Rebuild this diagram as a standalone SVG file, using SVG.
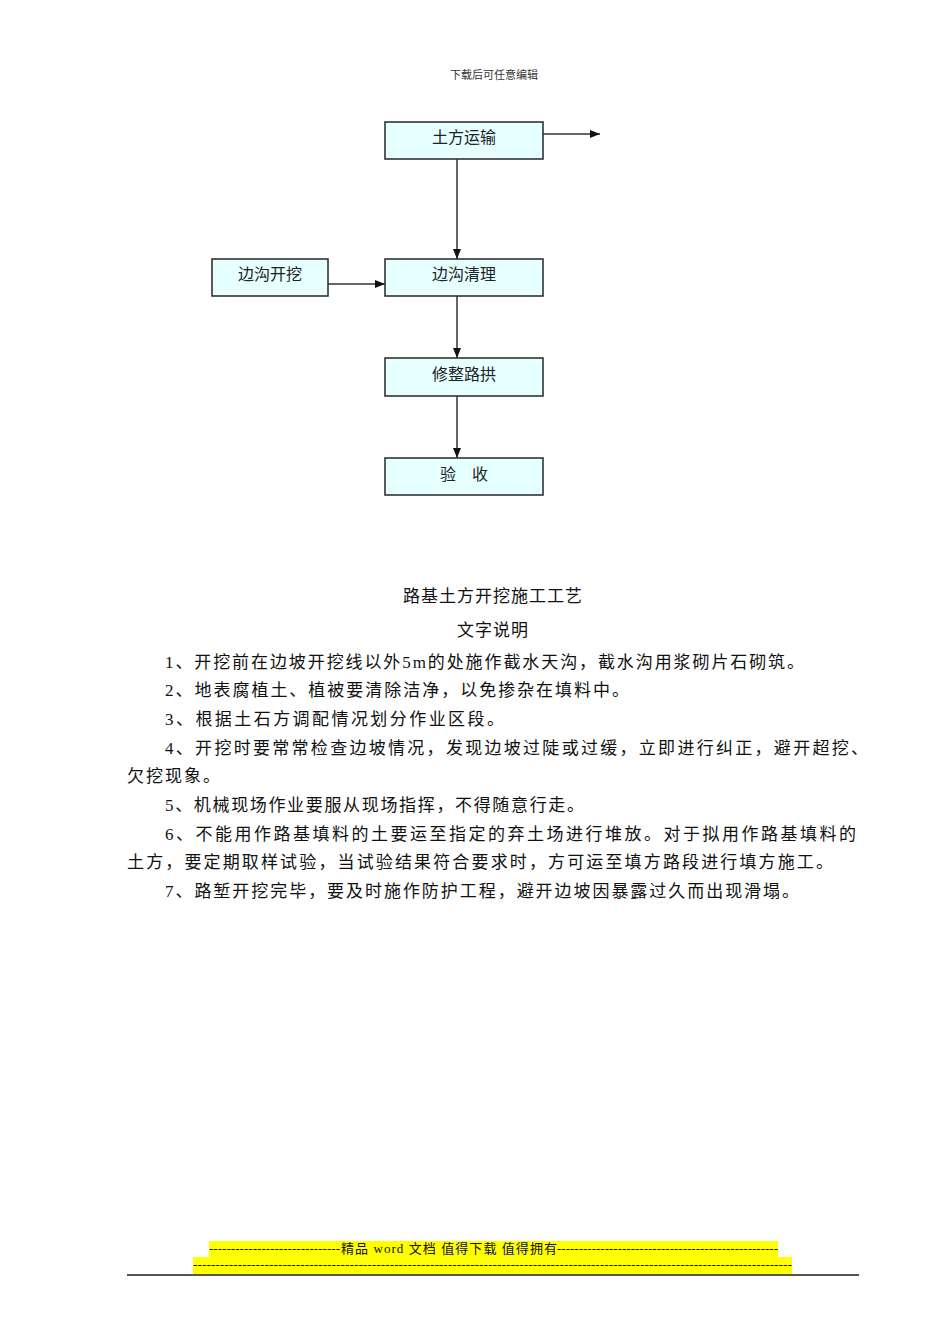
<svg xmlns="http://www.w3.org/2000/svg" width="950" height="1344" viewBox="0 0 950 1344">
<style>
.box{fill:#E6FFFF;stroke:#333;stroke-width:1.6}
.bt{font-family:"Liberation Serif","Noto Sans CJK SC",serif;font-size:16px;fill:#222;text-anchor:middle}
.body{font-family:"Liberation Serif","Noto Sans CJK SC",serif;font-size:17px;fill:#111;letter-spacing:2px}
.c{text-anchor:middle;letter-spacing:1px}
.ft{font-family:"Liberation Serif","Noto Sans CJK SC",serif;font-size:13px;fill:#111}
.conn{stroke:#333;stroke-width:1.5;fill:none;marker-end:url(#ah)}
</style>
<defs>
<marker id="ah" markerWidth="10" markerHeight="8" refX="10" refY="4" orient="auto" markerUnits="userSpaceOnUse">
<path d="M0,0 L10,4 L0,8 Z" fill="#111"/>
</marker>
</defs>
<rect width="950" height="1344" fill="#fff"/>
<text x="494" y="79" font-family="Liberation Serif, Noto Sans CJK SC, serif" font-size="11" fill="#333" text-anchor="middle">下载后可任意编辑</text>
<g id="connectors">
<line class="conn" x1="543" y1="134" x2="600" y2="134"/>
<line class="conn" x1="457" y1="159" x2="457" y2="259"/>
<line class="conn" x1="328" y1="284" x2="385" y2="284"/>
<line class="conn" x1="457" y1="296" x2="457" y2="358"/>
<line class="conn" x1="457" y1="396" x2="457" y2="458"/>
</g>
<g id="n1"><rect class="box" x="385" y="122" width="158" height="37"/><text class="bt" x="464" y="143">土方运输</text></g>
<g id="n2"><rect class="box" x="385" y="259" width="158" height="37"/><text class="bt" x="464" y="280">边沟清理</text></g>
<g id="n3"><rect class="box" x="212" y="259" width="116" height="37"/><text class="bt" x="270" y="280">边沟开挖</text></g>
<g id="n4"><rect class="box" x="385" y="358" width="158" height="38"/><text class="bt" x="464" y="380">修整路拱</text></g>
<g id="n5"><rect class="box" x="385" y="458" width="158" height="37"/><text class="bt" x="464" y="480">验　收</text></g>
<g id="text">
<text class="body c" x="493" y="602">路基土方开挖施工工艺</text>
<text class="body c" x="493" y="636">文字说明</text>
<text class="body" x="165" y="668" textLength="641" lengthAdjust="spacing">1、开挖前在边坡开挖线以外5m的处施作截水天沟，截水沟用浆砌片石砌筑。</text>
<text class="body" x="165" y="696" textLength="466" lengthAdjust="spacing">2、地表腐植土、植被要清除洁净，以免掺杂在填料中。</text>
<text class="body" x="165" y="725" textLength="341" lengthAdjust="spacing">3、根据土石方调配情况划分作业区段。</text>
<text class="body" x="165" y="754" textLength="705" lengthAdjust="spacing">4、开挖时要常常检查边坡情况，发现边坡过陡或过缓，立即进行纠正，避开超挖、</text>
<text class="body" x="127" y="782" textLength="95" lengthAdjust="spacing">欠挖现象。</text>
<text class="body" x="165" y="811" textLength="421" lengthAdjust="spacing">5、机械现场作业要服从现场指挥，不得随意行走。</text>
<text class="body" x="165" y="840" textLength="693" lengthAdjust="spacing">6、不能用作路基填料的土要运至指定的弃土场进行堆放。对于拟用作路基填料的</text>
<text class="body" x="127" y="868" textLength="708" lengthAdjust="spacing">土方，要定期取样试验，当试验结果符合要求时，方可运至填方路段进行填方施工。</text>
<text class="body" x="165" y="897" textLength="636" lengthAdjust="spacing">7、路堑开挖完毕，要及时施作防护工程，避开边坡因暴露过久而出现滑塌。</text>
</g>
<g id="footer">
<rect x="209" y="1241" width="569" height="17" fill="#FFFF00"/>
<rect x="193" y="1257" width="599" height="17" fill="#FFFF00"/>
<text class="ft" x="209" y="1253" textLength="131" lengthAdjust="spacingAndGlyphs">------------------------------</text>
<text class="ft" x="341" y="1253" textLength="216" lengthAdjust="spacing">精品 word 文档 值得下载 值得拥有</text>
<text class="ft" x="557" y="1253" textLength="221" lengthAdjust="spacingAndGlyphs">---------------------------------------------------</text>
<text class="ft" x="193" y="1269" textLength="599" lengthAdjust="spacingAndGlyphs">--------------------------------------------------------------------------------------------------------------------------------------</text>
<line x1="127" y1="1275" x2="859" y2="1275" stroke="#555" stroke-width="2"/>
</g>
</svg>
